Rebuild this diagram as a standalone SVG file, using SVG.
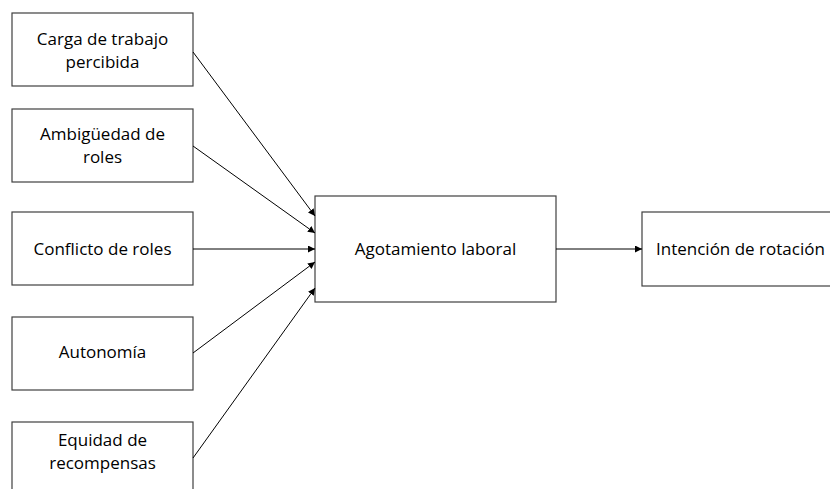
<svg xmlns="http://www.w3.org/2000/svg" width="830" height="489" viewBox="0 0 830 489">
<style>
.box{fill:#fff;stroke:#404040;stroke-width:1.2}
.t{font-family:"Open Sans","Liberation Sans",sans-serif;font-size:17px;fill:#000;text-anchor:middle}
.c{stroke:#000;stroke-width:1;fill:none;marker-end:url(#ah)}
</style>
<defs>
<marker id="ah" viewBox="0 0 10 10" refX="10" refY="5" markerWidth="7" markerHeight="7" markerUnits="userSpaceOnUse" orient="auto">
<path d="M0,0 L10,5 L0,10 z" fill="#000"/>
</marker>
</defs>
<rect width="830" height="489" fill="#fff"/>
<g id="n1"><rect class="box" x="12" y="13" width="181" height="73"/><text class="t" x="102.5" y="45">Carga de trabajo</text><text class="t" x="102.5" y="68">percibida</text></g>
<g id="n2"><rect class="box" x="12" y="109" width="181" height="73"/><text class="t" x="102.5" y="140">Ambigüedad de</text><text class="t" x="102.5" y="163">roles</text></g>
<g id="n3"><rect class="box" x="12" y="212" width="181" height="73"/><text class="t" x="102.5" y="255">Conflicto de roles</text></g>
<g id="n4"><rect class="box" x="12" y="317" width="181" height="73"/><text class="t" x="102.5" y="358">Autonomía</text></g>
<g id="n5"><rect class="box" x="12" y="422" width="181" height="73"/><text class="t" x="102.5" y="446">Equidad de</text><text class="t" x="102.5" y="469">recompensas</text></g>
<g id="n6"><rect class="box" x="315" y="196" width="241" height="106"/><text class="t" x="435.5" y="255">Agotamiento laboral</text></g>
<g id="n7"><rect class="box" x="642" y="212" width="220" height="74"/><text class="t" x="656" y="255" style="text-anchor:start">Intención de rotación</text></g>
<g id="connectors">
<line class="c" x1="193" y1="52" x2="315" y2="216"/>
<line class="c" x1="193" y1="146" x2="315" y2="233"/>
<line class="c" x1="193" y1="249" x2="315" y2="249"/>
<line class="c" x1="193" y1="353" x2="315" y2="262"/>
<line class="c" x1="193" y1="458" x2="315" y2="288"/>
<line class="c" x1="556" y1="249" x2="642" y2="249"/>
</g>
</svg>
